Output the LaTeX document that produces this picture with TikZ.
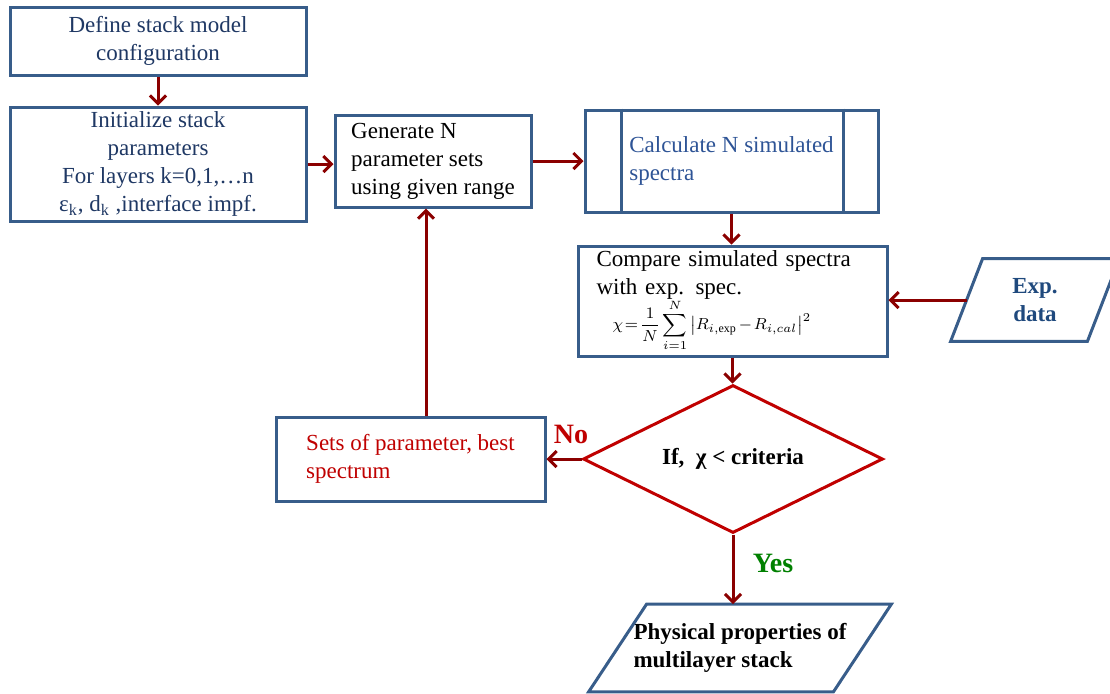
\documentclass[tikz,border=0pt]{standalone}
\usepackage{fontspec}
\setmainfont{Liberation Serif}
\usepackage{amsmath}
\usetikzlibrary{shapes.geometric,arrows.meta,positioning}

\definecolor{boxblue}{RGB}{56,93,138}
\definecolor{navytext}{RGB}{31,56,100}
\definecolor{midblue}{RGB}{46,84,150}
\definecolor{expblue}{RGB}{31,73,125}
\definecolor{flowred}{RGB}{139,0,0}
\definecolor{diared}{RGB}{192,0,0}
\definecolor{yesgreen}{RGB}{0,128,0}

\begin{document}
\begin{tikzpicture}[x=0.5pt, y=-0.5pt,
    font=\fontsize{11.5}{14}\selectfont,
    blockbox/.style={draw=boxblue, line width=1.5pt, fill=white, inner sep=2pt},
    flow/.style={draw=flowred, line width=1.5pt, -{Straight Barb[length=4pt,width=8pt]}},
    lbl/.style={font=\fontsize{14}{16}\selectfont\bfseries}]
    \useasboundingbox (0,0) rectangle (1110,693);

    % left column
    \node[blockbox, minimum width=148pt, minimum height=34pt, align=center, text=navytext] (define) at (158,41)
        {Define stack model\\configuration};
    \node[blockbox, minimum width=148pt, minimum height=57pt, align=center, text=navytext] (init) at (158,164)
        {Initialize stack\\parameters\\For layers k=0,1,…n\\ε\textsubscript{k}, d\textsubscript{k} ,interface impf.};

    % parameter generation and simulation
    \node[blockbox, minimum width=98pt, minimum height=46pt, align=left] (gen) at (433,161)
        {Generate N\\parameter sets\\using given range};
    \node[blockbox, minimum width=146.5pt, minimum height=51pt, align=left, text=midblue] (calc) at (731.5,161)
        {\raisebox{2pt}{Calculate N simulated}\\\raisebox{2pt}{spectra}};
    \draw[boxblue, line width=1.5pt] ([xshift=19pt]calc.north west) -- ([xshift=19pt]calc.south west);
    \draw[boxblue, line width=1.5pt] ([xshift=-18pt]calc.north east) -- ([xshift=-18pt]calc.south east);

    \node[blockbox, inner ysep=0pt, minimum width=154.5pt, minimum height=55pt, text width=136pt, align=left] (cmp) at (732.5,301)
        {Compare simulated spectra\\with exp. spec.\\[-1pt]
         \hspace*{8pt}\mbox{\fontsize{8}{9}\selectfont\thickmuskip=2mu\medmuskip=2mu
         $\displaystyle\chi=\frac{1}{N}\sum_{i=1}^{N}\left|R_{i,\exp}-R_{i,cal}\right|^2$}};

    % measured data
    \node[minimum width=68pt, minimum height=41pt, align=center, text=expblue, font=\fontsize{11.5}{14}\selectfont\bfseries] (expd) at (1035,300)
        {Exp.\\data};
    \draw[boxblue, line width=1.5pt] ([xshift=8pt]expd.north west) -- ([xshift=8pt]expd.north east)
        -- ([xshift=-8pt]expd.south east) -- ([xshift=-8pt]expd.south west) -- cycle;

    % decision
    \node[diamond, draw=diared, line width=1.5pt, aspect=2, inner sep=0pt, minimum width=150pt, minimum height=74pt,
        font=\fontsize{11.5}{14}\selectfont\bfseries] (test) at (733,459) {If,\ \ χ < criteria};
    \node[blockbox, minimum width=134.5pt, minimum height=42pt, align=left, text=diared] (sets) at (410.5,459)
        {Sets of parameter, best\\spectrum};

    \node[minimum width=122pt, minimum height=43.5pt, align=left, font=\fontsize{11.5}{14}\selectfont\bfseries] (phys) at (740,648)
        {Physical properties of\\multilayer stack};
    \draw[boxblue, line width=1.5pt] ([xshift=14.5pt]phys.north west) -- ([xshift=14.5pt]phys.north east)
        -- ([xshift=-14.5pt]phys.south east) -- ([xshift=-14.5pt]phys.south west) -- cycle;

    \node[lbl, text=diared] (nolbl) at (571,434) {No};
    \node[lbl, text=yesgreen] (yeslbl) at (773,563) {Yes};

    % connectors
    \draw[flow] (define) -- (init);
    \draw[flow] (init.east) -- (init.east -| gen.west);
    \draw[flow] (gen.east) -- (gen.east -| calc.west);
    \draw[flow] (calc.south) -- (calc.south |- cmp.north);
    \draw[flow] (expd.west) -- (expd.west -| cmp.east);
    \draw[flow] (cmp.south) -- (cmp.south |- test.north);
    \draw[flow] (test.west) -- (sets.east);
    \draw[flow] ([xshift=-3.5pt]gen.south |- sets.north) -- ([xshift=-3.5pt]gen.south);
    \draw[flow] (test.south) -- (test.south |- phys.north);
\end{tikzpicture}
\end{document}
